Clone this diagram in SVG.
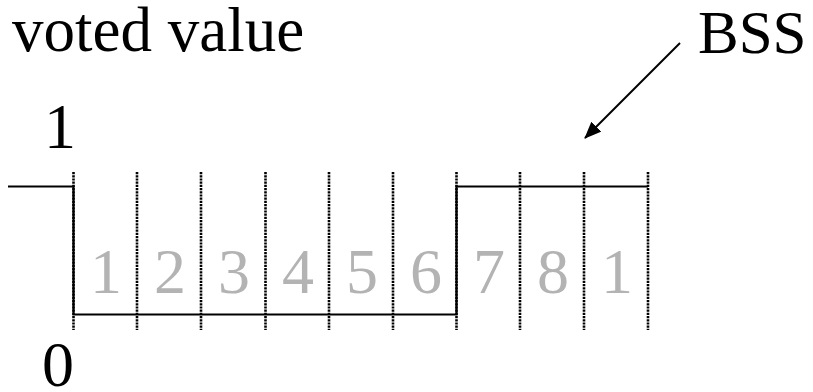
<svg xmlns="http://www.w3.org/2000/svg" width="813" height="392" viewBox="0 0 813 392">
<style>
.dot{stroke:#000;stroke-width:2.6;stroke-dasharray:2.2 1}
.sig{stroke:#000;stroke-width:2.2;fill:none}
</style>
<defs>
<marker id="ah" markerWidth="17" markerHeight="14" refX="16" refY="7" orient="auto" markerUnits="userSpaceOnUse" viewBox="0 0 17 14">
<path d="M0,0 L17,7 L0,14 z" fill="#000"/>
</marker>
</defs>
<g id="labels" fill="#000">
<text font-family="Liberation Serif" font-size="63" x="12" y="51">voted value</text>
<text font-family="Liberation Serif" font-size="64" x="44" y="148">1</text>
<text font-family="Liberation Serif" font-size="64" x="42" y="386">0</text>
<text font-family="Liberation Serif" font-size="61" x="698" y="53">BSS</text>
</g>
<g id="slots" fill="#b3b3b3" text-anchor="middle">
<text font-family="Liberation Serif" font-size="64" x="106" y="293">1</text>
<text font-family="Liberation Serif" font-size="64" x="170" y="293">2</text>
<text font-family="Liberation Serif" font-size="64" x="234" y="293">3</text>
<text font-family="Liberation Serif" font-size="64" x="298" y="293">4</text>
<text font-family="Liberation Serif" font-size="64" x="362" y="293">5</text>
<text font-family="Liberation Serif" font-size="64" x="426" y="293">6</text>
<text font-family="Liberation Serif" font-size="64" x="489" y="293">7</text>
<text font-family="Liberation Serif" font-size="64" x="553" y="293">8</text>
<text font-family="Liberation Serif" font-size="64" x="617" y="293">1</text>
</g>
<g id="grid">
<line class="dot" x1="73.5" y1="172" x2="73.5" y2="330"/>
<line class="dot" x1="137" y1="172" x2="137" y2="330"/>
<line class="dot" x1="201" y1="172" x2="201" y2="330"/>
<line class="dot" x1="265.5" y1="172" x2="265.5" y2="330"/>
<line class="dot" x1="329" y1="172" x2="329" y2="330"/>
<line class="dot" x1="393" y1="172" x2="393" y2="330"/>
<line class="dot" x1="456.5" y1="172" x2="456.5" y2="330"/>
<line class="dot" x1="520" y1="172" x2="520" y2="330"/>
<line class="dot" x1="584" y1="172" x2="584" y2="330"/>
<line class="dot" x1="648" y1="172" x2="648" y2="330"/>
</g>
<g id="connectors">
<polyline class="sig" points="8,186.5 73.5,186.5 73.5,314.5 456.5,314.5 456.5,186.5 648,186.5"/>
<line x1="680" y1="43" x2="585" y2="138" stroke="#000" stroke-width="2" marker-end="url(#ah)"/>
</g>
</svg>
